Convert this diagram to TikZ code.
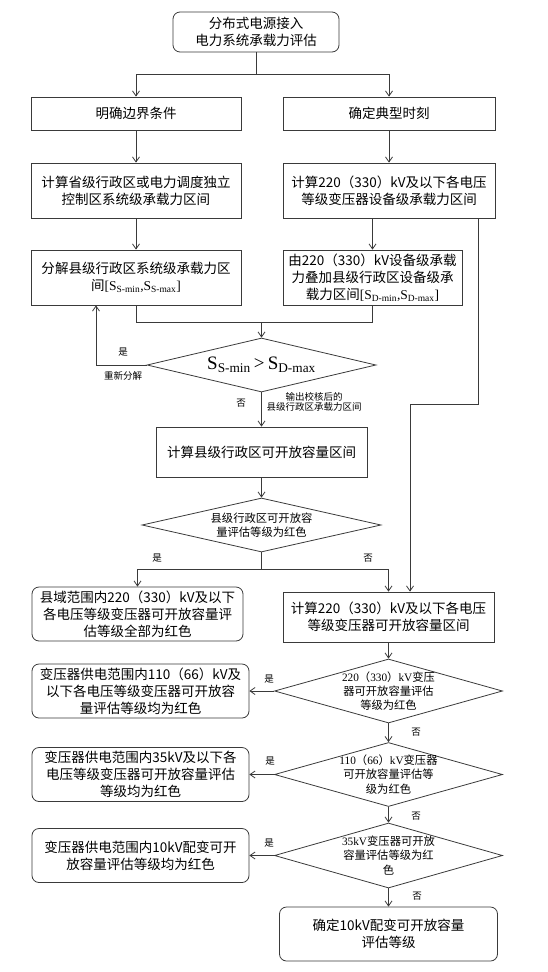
\documentclass[tikz,border=0pt]{standalone}
\usepackage{fontspec}
\setmainfont{Noto Sans CJK SC}
\newfontfamily\tnr{Liberation Serif}
\usetikzlibrary{shapes.geometric,arrows.meta}
\definecolor{lc}{HTML}{3A3A3A}
\begin{document}
\begin{tikzpicture}[x=1pt,y=-1pt,
 every node/.style={font=\fontsize{13.5}{17}\selectfont, text=black, align=center, inner sep=0pt},
 box/.style={draw=lc, line width=0.8pt},
 rbox/.style={box, rounded corners=7pt},
 dia/.style={draw=lc, line width=0.8pt, diamond},
 lbl/.style={font=\fontsize{9.5}{10.7}\selectfont},
 dtxt/.style={font=\fontsize{11.3}{14.2}\selectfont},
 arr/.style={draw=lc, line width=0.8pt, -{Straight Barb[length=5pt,width=7pt]}},
 ln/.style={draw=lc, line width=0.8pt}]
\useasboundingbox (0,0) rectangle (547,972);

\node[rbox, minimum width=166pt, minimum height=40pt] (top) at (256,32) {分布式电源接入\\电力系统承载力评估};
\node[box, minimum width=210pt, minimum height=33pt] (b1) at (136,113.5) {明确边界条件};
\node[box, minimum width=212pt, minimum height=33pt] (b2) at (389,113.5) {确定典型时刻};
\node[box, minimum width=210pt, minimum height=55pt] (b3) at (136,190.5) {计算省级行政区或电力调度独立\\控制区系统级承载力区间};
\node[box, minimum width=212pt, minimum height=55pt] (b4) at (389,190.5) {计算220（330）kV及以下各电压\\等级变压器设备级承载力区间};
\node[box, minimum width=210pt, minimum height=55pt] (b5) at (136,277.5) {分解县级行政区系统级承载力区\\间{\tnr[S\textsubscript{S-min},S\textsubscript{S-max}]}};
\node[box, minimum width=179pt, minimum height=55pt] (b6) at (372.5,277.5) {由220（330）kV设备级承载\\力叠加县级行政区设备级承\\载力区间{\tnr[S\textsubscript{D-min},S\textsubscript{D-max}]}};

\node[dia, minimum width=229pt, minimum height=54pt] (d1) at (261.5,365) {};
\node (d1t) at (d1.center) {\tnr\fontsize{19}{20}\selectfont S\textsubscript{S-min}\,>\,S\textsubscript{D-max}};

\node[box, minimum width=211pt, minimum height=50pt] (b7) at (261.5,452) {计算县级行政区可开放容量区间};

\node[dia, minimum width=239pt, minimum height=54pt] (d2) at (261.5,525) {};
\node[dtxt] (d2t) at (d2.center) {县级行政区可开放容\\量评估等级为红色};

\node[rbox, minimum width=211pt, minimum height=54pt] (b8) at (137.5,614) {县域范围内220（330）kV及以下\\各电压等级变压器可开放容量评\\估等级全部为红色};
\node[box, minimum width=211pt, minimum height=50pt] (b9) at (388.5,617) {计算220（330）kV及以下各电压\\等级变压器可开放容量区间};

\node[dia, minimum width=228pt, minimum height=64pt] (d3) at (388.5,691) {};
\node[dtxt] (d3t) at (d3.center) {{\tnr 220}（{\tnr 330}）{\tnr kV}变压\\器可开放容量评估\\等级为红色};
\node[rbox, minimum width=217pt, minimum height=54pt] (b10) at (140.5,691) {变压器供电范围内110（66）kV及\\以下各电压等级变压器可开放容\\量评估等级均为红色};

\node[dia, minimum width=228pt, minimum height=64pt] (d4) at (388.5,774.5) {};
\node[dtxt] (d4t) at (d4.center) {{\tnr 110}（{\tnr 66}）{\tnr kV}变压器\\可开放容量评估等\\级为红色};
\node[rbox, minimum width=217pt, minimum height=54pt] (b11) at (140.5,774.5) {变压器供电范围内35kV及以下各\\电压等级变压器可开放容量评估\\等级均为红色};

\node[dia, minimum width=228pt, minimum height=65pt] (d5) at (388.5,855.5) {};
\node[dtxt] (d5t) at (d5.center) {{\tnr 35kV}变压器可开放\\容量评估等级为红\\色};
\node[rbox, minimum width=217pt, minimum height=54pt] (b12) at (140.5,855.5) {变压器供电范围内10kV配变可开\\放容量评估等级均为红色};

\node[rbox, minimum width=218pt, minimum height=54pt] (b13) at (388.5,934) {确定10kV配变可开放容量\\评估等级};

% connectors
\coordinate (j0) at (256,74);
\draw[ln] (top.south) -- (j0);
\draw[arr] (j0) -| (b1.north);
\draw[arr] (j0) -| (b2.north);
\draw[arr] (b1) -- (b3);
\draw[arr] (b2) -- (b4);
\draw[arr] (b3) -- (b5);
\draw[arr] (b6.north |- b4.south) -- (b6.north);
\coordinate (r1) at (478,404);
\coordinate (r2) at (410,404);
\draw[arr] (r1 |- b4.south) -- (r1) -- (r2) -- (r2 |- b9.north);
\coordinate (m) at (261.5,322);
\draw[ln] (b5.south) |- (m);
\draw[ln] (b6.south) |- (m);
\draw[arr] (m) -- (d1.north);
\coordinate (lp) at (96,365);
\draw[arr] (d1.west) -- (lp) -- (lp |- b5.south);
\draw[arr] (d1.south) -- (b7.north);
\draw[arr] (b7.south) -- (d2.north);
\coordinate (j2) at (261.5,569);
\draw[ln] (d2.south) -- (j2);
\draw[arr] (j2) -| (b8.north);
\draw[arr] (j2) -| (b9.north);
\draw[arr] (b9.south) -- (d3.north);
\draw[arr] (d3.west) -- (b10.east);
\draw[arr] (d3.south) -- (d4.north);
\draw[arr] (d4.west) -- (b11.east);
\draw[arr] (d4.south) -- (d5.north);
\draw[arr] (d5.west) -- (b12.east);
\draw[arr] (d5.south) -- (b13.north);

% labels
\node[lbl] (y1) at (123,352) {是};
\node[lbl] (re) at (123,376) {重新分解};
\node[lbl] (n1) at (241,403) {否};
\node[lbl] (out) at (314,402) {输出校核后的\\县级行政区承载力区间};
\node[lbl] (y2) at (157,558) {是};
\node[lbl] (n2) at (368,558) {否};
\node[lbl] (y3) at (269,679) {是};
\node[lbl] (n3) at (416,732) {否};
\node[lbl] (y4) at (270,761) {是};
\node[lbl] (n4) at (416,816) {否};
\node[lbl] (y5) at (269,843) {是};
\node[lbl] (n5) at (417,896) {否};
\end{tikzpicture}
\end{document}
